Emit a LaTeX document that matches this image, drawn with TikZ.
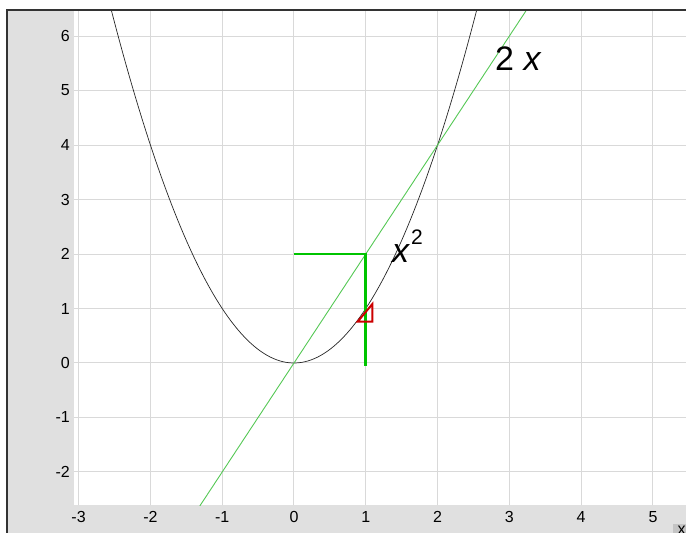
\documentclass[tikz,border=0pt]{standalone}
\usepackage{fontspec}
\setmainfont{Liberation Sans}
\definecolor{panelgrey}{HTML}{E0E0E0}
\definecolor{gridgrey}{HTML}{D9D9D9}
\definecolor{framegrey}{HTML}{333333}
\definecolor{tabgrey}{HTML}{C4C4C4}
\definecolor{linegreen}{HTML}{55C855}
\definecolor{stepgreen}{HTML}{00C400}
\definecolor{slopered}{HTML}{CC0000}
\usetikzlibrary{positioning}

\begin{document}
\begin{tikzpicture}[x=71.8pt,y=54.5pt,
  gridline/.style={draw=gridgrey,line width=1pt},
  ticklab/.style={font=\fontsize{16}{18}\selectfont,inner sep=0pt},
  curvelabel/.style={font=\fontsize{34}{40}\selectfont,inner sep=0pt,anchor=base west},
  parabola/.style={draw=black!85,line width=0.7pt},
  tangent/.style={draw=linegreen,line width=0.9pt},
  stepline/.style={draw=stepgreen,line width=2.6pt},
  slopetri/.style={draw=slopered,line width=2pt,line join=miter},
  frameline/.style={draw=framegrey,line width=2pt}
]
\useasboundingbox (-4.095,-3.119) rectangle (5.460,6.661);

% grey panels
\fill[panelgrey] (-4.004,-3.119) rectangle (-3.064,6.486);
\fill[panelgrey] (-4.004,-3.119) rectangle (5.460,-2.606);

% grid
\foreach \gx in {-3,...,5}
  \draw[gridline] (\gx,-2.606) -- (\gx,6.486);
\foreach \gy in {-2,...,6}
  \draw[gridline] (-3.064,\gy) -- (5.460,\gy);

% tick labels
\foreach \gy in {-2,...,6}
  \node[ticklab,anchor=east] (ylab\gy) at (-3.12,\gy) {\gy};
\foreach \gx in {-3,...,5}
  \node[ticklab] (xlab\gx) at (\gx,-2.826) {\gx};

% curves
\begin{scope}
  \clip (-3.064,-2.606) rectangle (5.460,6.486);
  \draw[parabola] plot[domain=-2.65:2.65,samples=120] (\x,{\x*\x});
  \draw[tangent] (-1.35,-2.7) -- (3.3,6.6);
\end{scope}

% step and slope triangle
\coordinate (stepa) at (0,2);
\coordinate (stepb) at (1,2);
\coordinate (stepc) at (1,-0.05);
\draw[stepline] (stepa) -- (stepb) -- (stepc);
\coordinate (tria) at (0.887,0.76);
\coordinate (trib) at (1.09,0.76);
\coordinate (tric) at (1.09,1.08);
\draw[slopetri] (tria) -- (trib) -- (tric) -- cycle;

% curve labels
\node[curvelabel] (linelab) at (2.80,5.376) {2 \textit{x}};
\node[curvelabel] (parlab) at (1.365,1.835)
  {\textit{x}\hspace{1pt}\raisebox{0.55em}{\fontsize{21}{24}\selectfont 2}};

% frame and axis tab
\draw[frameline] (-4.004,-3.119) -- (-4.004,6.486) -- (5.460,6.486);
\fill[tabgrey] (5.279,-2.954) rectangle (5.460,-3.119);
\node[ticklab,anchor=north] (xtab) at (5.40,-2.99) {x};

\end{tikzpicture}
\end{document}
